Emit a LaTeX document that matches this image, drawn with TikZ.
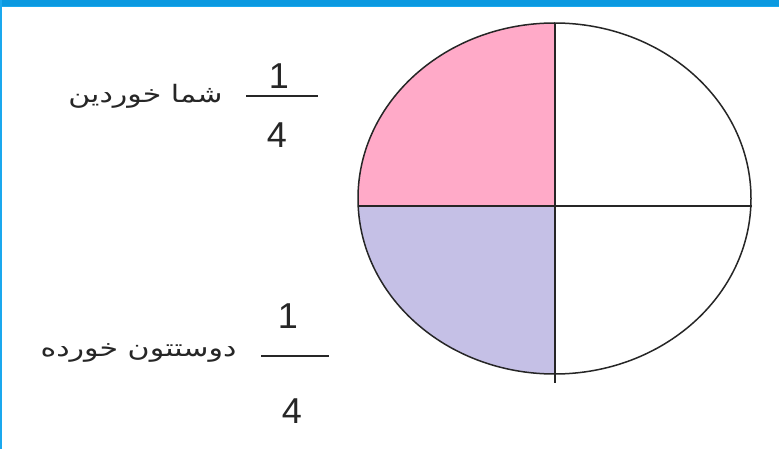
\documentclass[tikz,border=0pt]{standalone}
\usepackage{graphicx}
\usepackage{fontspec}
\setmainfont{Liberation Sans}
\newfontfamily\arabicfont[Script=Arabic]{DejaVu Sans}
\TeXXeTstate=1
\definecolor{barblue}{HTML}{0B99E0}
\definecolor{edgeblue}{HTML}{1AA8EE}
\definecolor{pinkq}{HTML}{FFAAC8}
\definecolor{lavq}{HTML}{C5C0E6}
\newcommand{\artext}[1]{\scalebox{1.25}[1]{\fontsize{24}{28}\selectfont\arabicfont\beginR #1\endR}}
\tikzset{
  ar/.style={inner sep=0pt, text=black!85},
  num/.style={font=\fontsize{36}{40}\selectfont, inner sep=0pt, text=black!85},
  fracbar/.style={line width=1.6pt, draw=black!85},
  pieline/.style={line width=1.5pt, draw=black!85}
}
\begin{document}
\begin{tikzpicture}[x=1pt,y=-1pt]
\useasboundingbox (0,0) rectangle (779,449);
\fill[white] (0,0) rectangle (779,449);
% frame
\fill[barblue] (0,0) rectangle (779,6);
\fill[edgeblue] (0,6) rectangle (779,7.5);
\fill[edgeblue] (0,0) rectangle (2,449);
% pie
\begin{scope}
  \clip (554.5,198.5) ellipse [x radius=196.5, y radius=175.5];
  \fill[pinkq] (350,15) rectangle (555,206);
  \fill[lavq] (350,206) rectangle (555,380);
\end{scope}
\draw[pieline] (554.5,198.5) ellipse [x radius=196.5, y radius=175.5];
\coordinate (vt) at (555,23);
\coordinate (vb) at (555,383);
\coordinate (hl) at (358,206);
\coordinate (hr) at (752,206);
\draw[pieline] (vt) -- (vb);
\draw[pieline] (hl) -- (hr);
% first fraction
\node[num] (n1) at (279,76) {1};
\node[num] (d1) at (277,135) {4};
\coordinate (b1l) at (246,96);
\coordinate (b1r) at (318,96);
\draw[fracbar] (b1l) -- (b1r);
\node[ar] (t1) at (145.5,96) {\artext{شما خوردین}};
% second fraction
\node[num] (n2) at (288,316) {1};
\node[num] (d2) at (292,411) {4};
\coordinate (b2l) at (261,356);
\coordinate (b2r) at (329,356);
\draw[fracbar] (b2l) -- (b2r);
\node[ar] (t2) at (138.5,353) {\artext{دوستتون خورده}};
\end{tikzpicture}
\end{document}
